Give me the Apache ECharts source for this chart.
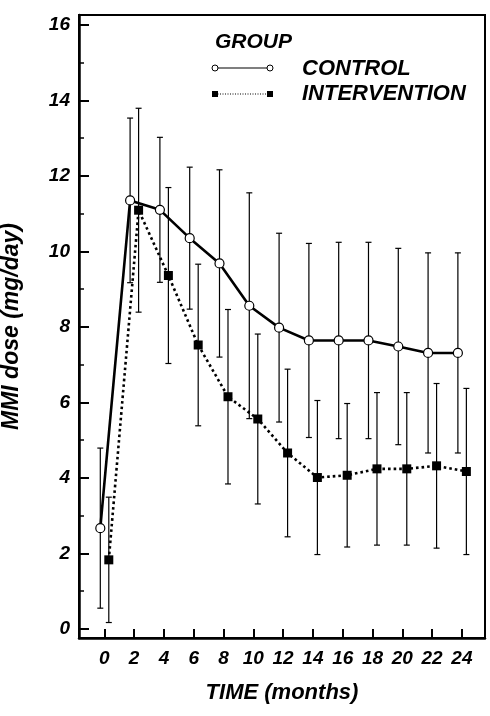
<!DOCTYPE html>
<html>
<head>
<meta charset="utf-8">
<script src="https://cdn.jsdelivr.net/npm/echarts@6/dist/echarts.min.js"></script>
<style>
html, body { margin: 0; padding: 0; background: #fff; }
#chart { width: 490px; height: 716px; }
</style>
</head>
<body>
<div id="chart"></div>
<script>
// time points (months) and group means / standard deviations
var months = [0, 2, 4, 6, 8, 10, 12, 14, 16, 18, 20, 22, 24];
var controlMean = [2.67, 11.35, 11.1, 10.35, 9.68, 8.56, 7.98, 7.64, 7.64, 7.64, 7.48, 7.31, 7.31];
var controlSd = [2.12, 2.18, 1.92, 1.88, 2.48, 2.99, 2.5, 2.57, 2.6, 2.6, 2.6, 2.65, 2.65];
var interMean = [1.83, 11.09, 9.36, 7.52, 6.15, 5.56, 4.66, 4.01, 4.07, 4.24, 4.24, 4.32, 4.17];
var interSd = [1.66, 2.7, 2.33, 2.14, 2.31, 2.25, 2.22, 2.04, 1.9, 2.02, 2.02, 2.18, 2.2];
var yMajor = [0, 2, 4, 6, 8, 10, 12, 14, 16];
var yMinor = [1, 3, 5, 7, 9, 11, 13, 15];

// the two groups are drawn slightly apart so the bars do not overlap
var controlShift = -0.27;
var interShift = 0.3;

var FONT = '"Liberation Sans", Arial, sans-serif';

function points(mean, shift) {
	return months.map(function (m, i) { return [m + shift, mean[i]]; });
}

function bars(mean, sd, shift) {
	return months.map(function (m, i) { return [m + shift, mean[i] - sd[i], mean[i] + sd[i]]; });
}

function errorSeries(data) {
	return {
		type: 'custom',
		silent: true,
		z: 1,
		encode: { x: 0, y: [1, 2] },
		data: data,
		renderItem: function (params, api) {
			var x = api.value(0);
			var bot = api.coord([x, api.value(1)]);
			var top = api.coord([x, api.value(2)]);
			var cap = 3;
			var st = { stroke: '#000', lineWidth: 1.2 };
			return {
				type: 'group',
				children: [
					{ type: 'line', shape: { x1: top[0], y1: top[1], x2: bot[0], y2: bot[1] }, style: st },
					{ type: 'line', shape: { x1: top[0] - cap, y1: top[1], x2: top[0] + cap, y2: top[1] }, style: st },
					{ type: 'line', shape: { x1: bot[0] - cap, y1: bot[1], x2: bot[0] + cap, y2: bot[1] }, style: st }
				]
			};
		}
	};
}

var myChart = echarts.init(document.getElementById('chart'));
var labelStyle = { color: '#000', fontSize: 19, fontWeight: 'bold', fontStyle: 'italic', fontFamily: FONT };
var xNameStyle = { color: '#000', fontSize: 22, fontWeight: 'bold', fontStyle: 'italic', fontFamily: FONT };
var yNameStyle = { color: '#000', fontSize: 23, fontWeight: 'bold', fontStyle: 'italic', fontFamily: FONT };
var legendFont = 'italic bold 22px ' + FONT;

var option = {
	backgroundColor: '#fff',
	animation: false,
	grid: {
		left: 79,
		right: 5,
		top: 15,
		bottom: 78,
		outerBoundsMode: 'none',
		show: true,
		borderColor: '#000',
		borderWidth: 2
	},
	xAxis: {
		type: 'value',
		min: -1.7,
		max: 25.55,
		name: 'TIME (months)',
		nameLocation: 'middle',
		nameGap: 44,
		nameTextStyle: xNameStyle,
		axisLine: { show: true, onZero: false, lineStyle: { color: '#000', width: 2.5 } },
		axisTick: { show: true, inside: true, length: 9, customValues: months, lineStyle: { color: '#000', width: 2 } },
		axisLabel: { customValues: months, margin: 11, textStyle: labelStyle },
		splitLine: { show: false }
	},
	yAxis: [{
			type: 'value',
			min: -0.24,
			max: 16.26,
			name: 'MMI dose (mg/day)',
			nameLocation: 'middle',
			nameGap: 56,
			nameTextStyle: yNameStyle,
			axisLine: { show: true, onZero: false, lineStyle: { color: '#000', width: 2.5 } },
			axisTick: { show: true, inside: true, length: 10, customValues: yMajor, lineStyle: { color: '#000', width: 2 } },
			axisLabel: { customValues: yMajor, margin: 9, textStyle: labelStyle },
			splitLine: { show: false }
		},
		{
			type: 'value',
			position: 'left',
			min: -0.24,
			max: 16.26,
			axisLine: { show: false, onZero: false },
			axisTick: { show: true, inside: true, length: 5, customValues: yMinor, lineStyle: { color: '#000', width: 1.5 } },
			axisLabel: { show: false },
			splitLine: { show: false }
		}
	],
	series: [
		errorSeries(bars(controlMean, controlSd, controlShift)),
		errorSeries(bars(interMean, interSd, interShift)),
		{
			name: 'INTERVENTION',
			type: 'line',
			z: 3,
			data: points(interMean, interShift),
			symbol: 'rect',
			symbolSize: 9,
			itemStyle: { color: '#000', borderColor: '#000', borderWidth: 0 },
			lineStyle: { color: '#000', width: 2.6, type: [2.6, 3] }
		},
		{
			name: 'CONTROL',
			type: 'line',
			z: 4,
			data: points(controlMean, controlShift),
			symbol: 'circle',
			symbolSize: 9,
			itemStyle: { color: '#fff', borderColor: '#000', borderWidth: 1.2 },
			lineStyle: { color: '#000', width: 2.6, type: 'solid' }
		}
	],
	graphic: [
		{ type: 'text', x: 215, y: 42, style: { text: 'GROUP', font: 'italic bold 21px ' + FONT, fill: '#000', verticalAlign: 'middle' } },
		{ type: 'line', shape: { x1: 215, y1: 68, x2: 270, y2: 68 }, style: { stroke: '#000', lineWidth: 1.2 } },
		{ type: 'circle', shape: { cx: 215, cy: 68, r: 3 }, style: { fill: '#fff', stroke: '#000', lineWidth: 1 } },
		{ type: 'circle', shape: { cx: 270, cy: 68, r: 3 }, style: { fill: '#fff', stroke: '#000', lineWidth: 1 } },
		{ type: 'text', x: 302, y: 69, style: { text: 'CONTROL', font: legendFont, fill: '#000', verticalAlign: 'middle' } },
		{ type: 'line', shape: { x1: 215, y1: 94, x2: 270, y2: 94 }, style: { stroke: '#000', lineWidth: 1, lineDash: [1, 1.5] } },
		{ type: 'rect', shape: { x: 212, y: 91, width: 6, height: 6 }, style: { fill: '#000' } },
		{ type: 'rect', shape: { x: 267, y: 91, width: 6, height: 6 }, style: { fill: '#000' } },
		{ type: 'text', x: 302, y: 94, style: { text: 'INTERVENTION', font: legendFont, fill: '#000', verticalAlign: 'middle' } }
	]
};

myChart.setOption(option);
</script>
</body>
</html>
